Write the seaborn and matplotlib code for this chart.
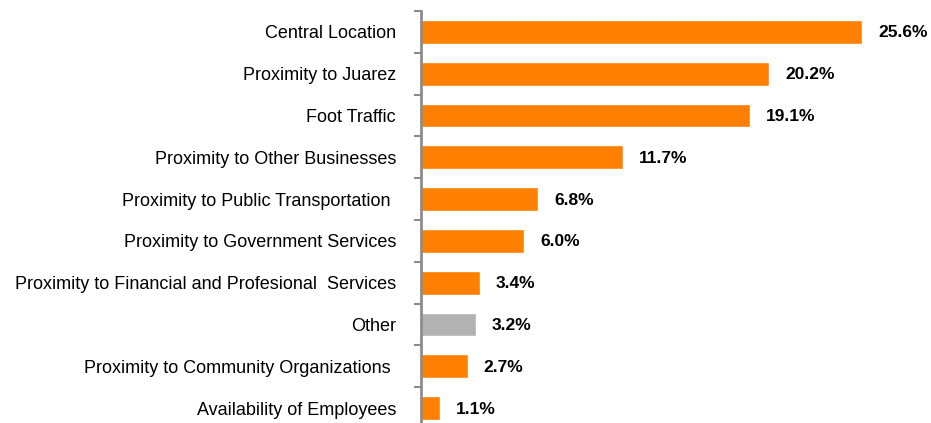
import matplotlib
matplotlib.use("Agg")
import matplotlib.pyplot as plt
import seaborn as sns
import pandas as pd
from matplotlib.ticker import FixedLocator

categories = [
    "Central Location",
    "Proximity to Juarez",
    "Foot Traffic",
    "Proximity to Other Businesses",
    "Proximity to Public Transportation ",
    "Proximity to Government Services",
    "Proximity to Financial and Profesional  Services",
    "Other",
    "Proximity to Community Organizations ",
    "Availability of Employees",
]
values = [25.6, 20.2, 19.1, 11.7, 6.8, 6.0, 3.4, 3.2, 2.7, 1.1]
orange = "#FF7F00"
gray = "#B2B2B2"
colors = [gray if c == "Other" else orange for c in categories]

sns.set_theme(style="white")
plt.rcParams["font.family"] = ["Liberation Sans", "DejaVu Sans"]

df = pd.DataFrame({"cat": categories, "val": values})

fig = plt.figure(figsize=(9.31, 4.23), dpi=100)
ax = fig.add_axes([421 / 931, (423 - 429) / 423, 510 / 931, 418 / 423])
sns.barplot(data=df, x="val", y="cat", hue="cat", palette=colors, legend=False,
            orient="h", width=0.57, ax=ax, saturation=1)

ax.set_xlim(0, 29.6)
ax.set_ylim(9.5, -0.5)
ax.set_xlabel("")
ax.set_ylabel("")
ax.set_xticks([])
for s in ["top", "right", "bottom"]:
    ax.spines[s].set_visible(False)
ax.spines["left"].set_color("#8C8C8C")
ax.spines["left"].set_linewidth(2)

ax.tick_params(axis="y", which="major", length=0, pad=18, labelsize=13, labelcolor="black")
ax.yaxis.set_minor_locator(FixedLocator([i - 0.5 for i in range(len(categories) + 1)]))
ax.tick_params(axis="y", which="minor", length=5, width=1.5, color="#8C8C8C", left=True)

for i, v in enumerate(values):
    ax.annotate(f"{v:.1f}%", xy=(v, i), xytext=(16, -1), textcoords="offset pixels",
                va="center", ha="left", fontsize=12.5, fontweight="bold", color="black")

fig.savefig("out.png", dpi=100)
